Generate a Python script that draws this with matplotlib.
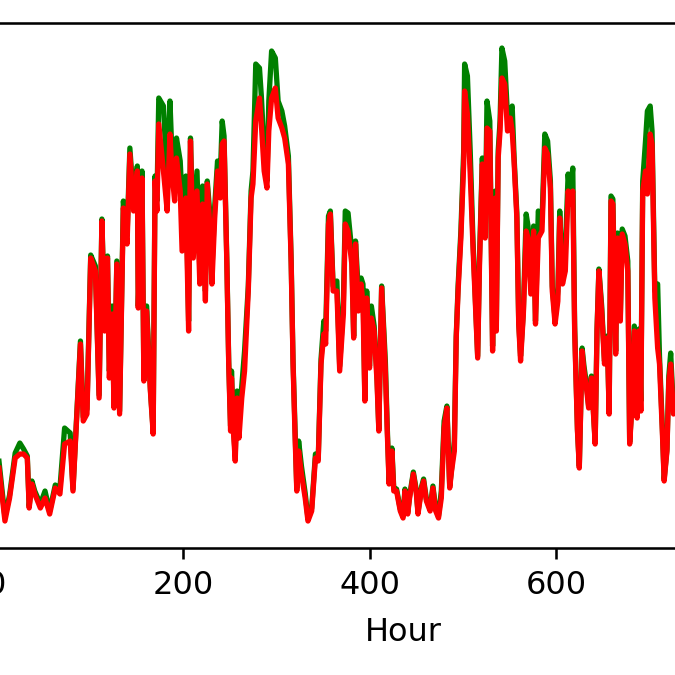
import numpy as np
import matplotlib
matplotlib.use("Agg")
import matplotlib.pyplot as plt

# hourly values (arbitrary units)
hours = [0, 9, 14, 20, 25, 29, 33, 35, 38, 41, 47, 52, 57, 63, 68, 73, 79, 82, 86, 90,
         93, 97, 101, 106, 110, 113, 116, 119, 121, 124, 126, 129, 132, 136, 140, 143, 147, 151, 152, 156,
         158, 161, 165, 168, 170, 172, 174, 179, 183, 186, 188, 191, 193, 197, 199, 203, 206, 208, 211, 215,
         218, 221, 224, 226, 229, 231, 234, 237, 240, 242, 244, 247, 249, 251, 252, 254, 256, 258, 260, 263,
         266, 270, 273, 275, 278, 282, 284, 287, 290, 292, 295, 299, 302, 306, 309, 313, 316, 318, 320, 322,
         324, 327, 331, 334, 338, 342, 345, 348, 351, 353, 356, 358, 361, 365, 368, 372, 374, 377, 381, 383,
         385, 388, 391, 393, 395, 397, 400, 402, 405, 408, 410, 413, 417, 419, 421, 424, 426, 429, 433, 436,
         438, 441, 443, 447, 450, 452, 456, 458, 461, 465, 468, 471, 474, 477, 480, 483, 486, 488, 491, 493,
         495, 498, 501, 502, 505, 508, 511, 516, 518, 521, 524, 526, 529, 532, 535, 536, 538, 540, 542, 545,
         548, 551, 553, 555, 558, 560, 562, 565, 568, 570, 573, 576, 578, 581, 585, 588, 591, 594, 596, 599,
         602, 604, 607, 610, 613, 615, 618, 620, 623, 625, 628, 630, 633, 635, 638, 642, 644, 646, 649, 652,
         655, 657, 659, 661, 664, 666, 669, 671, 674, 677, 679, 681, 684, 687, 689, 691, 693, 696, 698, 701,
         703, 706, 709, 711, 714, 716, 719, 721, 723, 726, 732, 740]

predicted = [110, 31, 53, 95, 105, 99, 92, 42, 67, 57, 44, 57, 37, 63, 60, 120, 115, 59, 133, 207,
             131, 139, 293, 282, 153, 329, 225, 292, 177, 242, 143, 287, 137, 347, 312, 400, 347, 382, 242, 377,
             171, 242, 159, 117, 372, 347, 450, 442, 367, 447, 397, 377, 410, 387, 347, 372, 227, 410, 307, 377,
             277, 362, 257, 367, 332, 277, 342, 387, 372, 427, 412, 287, 187, 122, 177, 122, 92, 157, 127, 162,
             197, 262, 357, 377, 484, 480, 452, 397, 367, 447, 497, 490, 447, 437, 422, 392, 287, 187, 122, 60,
             107, 82, 55, 30, 40, 94, 89, 189, 227, 217, 332, 337, 262, 267, 182, 247, 337, 335, 297, 212,
             307, 257, 270, 264, 149, 257, 182, 242, 222, 172, 119, 262, 187, 122, 67, 100, 60, 59, 39, 32,
             59, 36, 52, 76, 59, 36, 62, 69, 49, 39, 62, 39, 32, 57, 127, 142, 62, 79, 107, 212,
             262, 317, 397, 484, 472, 397, 307, 192, 292, 390, 317, 447, 427, 202, 357, 222, 397, 427, 500, 487,
             432, 437, 442, 392, 335, 227, 192, 237, 334, 322, 262, 322, 227, 337, 327, 414, 407, 367, 262, 229,
             257, 337, 269, 297, 374, 352, 380, 222, 119, 82, 200, 182, 162, 142, 172, 106, 219, 279, 242, 187,
             212, 136, 352, 349, 197, 315, 232, 319, 312, 287, 106, 137, 222, 132, 219, 147, 367, 407, 437, 442,
             417, 257, 264, 192, 122, 69, 99, 172, 195, 137, 155, 176]

actual = [102, 27, 50, 90, 94, 94, 90, 40, 64, 54, 40, 50, 34, 60, 54, 104, 107, 57, 130, 204,
          127, 134, 290, 277, 150, 327, 217, 290, 170, 234, 140, 284, 134, 340, 304, 394, 337, 377, 240, 370,
          167, 237, 157, 114, 367, 337, 424, 377, 337, 414, 377, 347, 390, 357, 297, 350, 217, 407, 290, 357,
          264, 344, 247, 364, 317, 264, 330, 377, 350, 404, 407, 284, 184, 117, 170, 117, 87, 150, 110, 150,
          177, 257, 350, 364, 427, 450, 424, 377, 360, 417, 450, 460, 430, 420, 410, 384, 284, 184, 117, 57,
          97, 74, 50, 27, 37, 90, 87, 184, 214, 204, 324, 334, 257, 257, 177, 234, 324, 317, 284, 210,
          304, 237, 264, 244, 147, 250, 180, 230, 217, 167, 117, 260, 177, 117, 64, 97, 57, 57, 37, 30,
          57, 34, 50, 74, 57, 34, 60, 67, 47, 37, 60, 37, 30, 50, 120, 140, 60, 77, 97, 210,
          257, 310, 384, 457, 434, 374, 300, 190, 284, 384, 310, 420, 417, 197, 350, 217, 390, 417, 470, 464,
          417, 430, 417, 387, 330, 224, 187, 234, 317, 310, 254, 317, 224, 310, 317, 400, 394, 360, 257, 224,
          247, 330, 264, 277, 357, 344, 357, 217, 117, 80, 197, 177, 157, 140, 170, 104, 217, 277, 237, 184,
          210, 134, 347, 344, 194, 310, 227, 314, 304, 277, 104, 134, 217, 130, 217, 137, 357, 377, 354, 414,
          404, 250, 200, 184, 117, 67, 97, 167, 184, 134, 150, 170]

fig = plt.figure(figsize=(6.75, 6.75), dpi=100)
# the reference is a crop of a wider figure, so the axes run past the edges
ax = fig.add_axes([-0.0604, 0.1881, 1.3151, 0.7778])

ax.plot(hours, predicted, color='green', linewidth=3.8)
ax.plot(hours, actual, color='red', linewidth=3.8)

ax.set_xlim(-40, 912)
ax.set_ylim(0, 525)
ax.set_xticks([0, 200, 400, 600])
ax.set_xlabel('Hour', fontsize=23, labelpad=11)
ax.tick_params(axis='x', labelsize=23, length=8, width=1.84, pad=8)
ax.tick_params(axis='y', left=False, labelleft=False)
for s in ax.spines.values():
    s.set_linewidth(1.84)

fig.savefig("out.png", dpi=100)
